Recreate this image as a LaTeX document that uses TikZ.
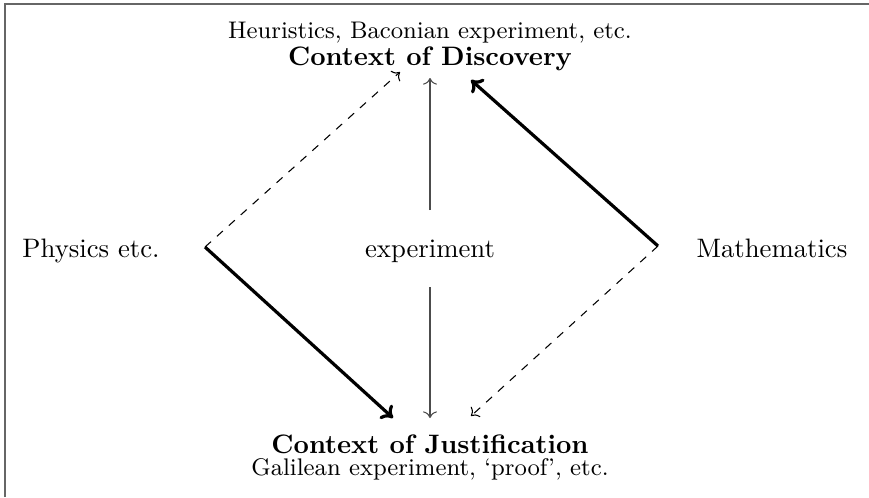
\documentclass[tikz,border=0pt]{standalone}
\usetikzlibrary{arrows.meta}
\begin{document}
\begin{tikzpicture}[x=0.3745pt,y=-0.3745pt,
  lbl/.style={inner sep=0pt,anchor=base},
  ctx/.style={lbl,font=\bfseries},
  captext/.style={lbl,font=\small},
  thinarrow/.style={->,black!70,line width=0.4pt},
  dasharrow/.style={->,dashed,line width=0.4pt},
  boldarrow/.style={-{To[length=4pt,width=7pt]},line width=1.2pt},
  frameline/.style={black!60,line width=0.8pt}]
\useasboundingbox (0,0) rectangle (869,497);
\draw[frameline] (5,497) -- (5,4) -- (869,4);
% texts
\node[captext] (heur) at (430,38) {Heuristics, Baconian experiment, etc.};
\node[ctx] (disc) at (430,65) {Context of Discovery};
\node[ctx] (just) at (430,453) {Context of Justification};
\node[captext] (gal) at (430,475) {Galilean experiment, `proof', etc.};
\node[lbl] (phys) at (91,257) {Physics etc.};
\node[lbl] (exp) at (430,257) {experiment};
\node[lbl] (math) at (772,257) {Mathematics};
% connector ends
\coordinate (pl) at (205,247);
\coordinate (pr) at (658,246);
\coordinate (tl) at (400,72);
\coordinate (tr) at (471,80);
\coordinate (bl) at (393,418);
\coordinate (br) at (471,416);
\coordinate (ct) at (430,78);
\coordinate (cb) at (430,418);
\coordinate (cu) at (430,210);
\coordinate (cd) at (430,287);
% connectors
\draw[dasharrow] (pl) -- (tl);
\draw[boldarrow] (pl) -- (bl);
\draw[boldarrow] (pr) -- (tr);
\draw[dasharrow] (pr) -- (br);
\draw[thinarrow] (cu) -- (ct);
\draw[thinarrow] (cd) -- (cb);
\end{tikzpicture}
\end{document}
